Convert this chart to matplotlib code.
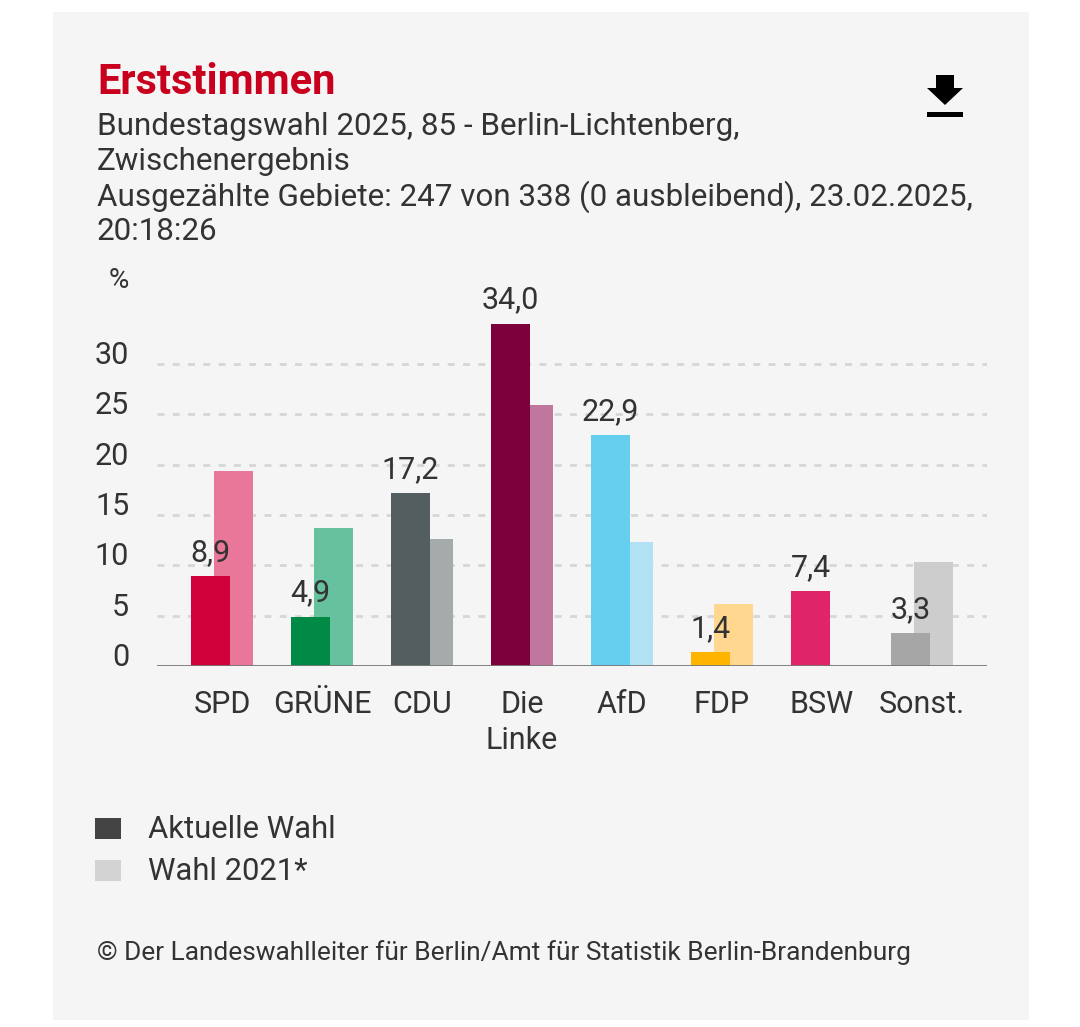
import numpy as np
import matplotlib
matplotlib.use("Agg")
import matplotlib.pyplot as plt
from matplotlib.patches import Rectangle, Polygon

plt.rcParams['font.family'] = ['Roboto', 'DejaVu Sans']

parties = ["SPD", "GRÜNE", "CDU", "Die\nLinke", "AfD", "FDP", "BSW", "Sonst."]
aktuell = [8.9, 4.9, 17.2, 34.0, 22.9, 1.4, 7.4, 3.3]
wahl2021 = [19.4, 13.7, 12.6, 25.9, 12.3, 6.2, 0.0, 10.3]
col_akt = ["#d0003a", "#008a45", "#545d5f", "#7c003c", "#66cfef", "#ffb400", "#e0246a", "#a6a6a6"]
col_21 = ["#e8779a", "#66c29e", "#a4abaa", "#bf779d", "#b1e2f3", "#ffd78e", "#f0a0bd", "#cdcdcd"]
yticks = [0, 5, 10, 15, 20, 25, 30]

W, H = 1080, 1027
fig = plt.figure(figsize=(W / 100, H / 100), dpi=100)
fig.patch.set_facecolor("white")

def fx(px): return px / W
def fy(py): return 1 - py / H

# grey panel
fig.patches.append(Rectangle((fx(53), fy(1020)), fx(1029) - fx(53), fy(12) - fy(1020),
                             transform=fig.transFigure, facecolor="#f5f5f5", edgecolor="none", zorder=-5))

txt = "#333333"
fig.text(fx(97), fy(82), "Erststimmen", color="#c8001e", fontsize=30, fontweight="bold", va="center", ha="left")
sub = ["Bundestagswahl 2025, 85 - Berlin-Lichtenberg,", "Zwischenergebnis",
       "Ausgezählte Gebiete: 247 von 338 (0 ausbleibend), 23.02.2025,", "20:18:26"]
for i, s in enumerate(sub):
    fig.text(fx(97), fy(126 + 35.3 * i), s, color=txt, fontsize=22.6, va="center", ha="left")

# download icon
fig.patches.append(Polygon([(fx(936), fy(75)), (fx(954), fy(75)), (fx(954), fy(88)), (fx(963), fy(88)),
                            (fx(945), fy(105)), (fx(927), fy(88)), (fx(936), fy(88))],
                           closed=True, transform=fig.transFigure, facecolor="black", edgecolor="none"))
fig.patches.append(Rectangle((fx(927), fy(117)), fx(963) - fx(927), fy(112) - fy(117),
                             transform=fig.transFigure, facecolor="black", edgecolor="none"))

# chart axes
ymax = 35
ax = fig.add_axes([fx(157), fy(666), fx(987) - fx(157), ymax * 10.07 / H])
ax.set_facecolor("none")
x = np.arange(len(parties))
bw = 0.39
off = 0.115
for i in range(len(parties)):
    if wahl2021[i] > 0:
        ax.bar(x[i] + off, wahl2021[i], bw, color=col_21[i], zorder=2)
    ax.bar(x[i] - off, aktuell[i], bw, color=col_akt[i], zorder=3)
    ax.text(x[i] - off, aktuell[i] + 0.9, f"{aktuell[i]:.1f}".replace(".", ","),
            ha="center", va="bottom", fontsize=22, color=txt, zorder=4)

ax.set_xlim(-0.65, len(parties) - 1 + 0.65)
ax.set_ylim(0, ymax)
for t in yticks[1:]:
    ax.axhline(t, color="#d6d6d6", lw=2, ls=(0, (2.5, 3)), zorder=1)
ax.axhline(0, color="#777777", lw=2, zorder=5)
for s in ax.spines.values():
    s.set_visible(False)
ax.set_yticks(yticks)
ax.set_yticklabels([str(t) for t in yticks], fontsize=22, color=txt, va="baseline")
ax.tick_params(axis="y", length=0, pad=20)
ax.set_xticks(x)
ax.set_xticklabels(parties, fontsize=22, color=txt, linespacing=1.3, va="top")
ax.tick_params(axis="x", length=0, pad=17)
fig.text(fx(119), fy(280), "%", fontsize=20, color=txt, ha="center", va="center")

# legend
fig.patches.append(Rectangle((fx(95), fy(839)), fx(121) - fx(95), fy(818) - fy(839),
                             transform=fig.transFigure, facecolor="#444444", edgecolor="none"))
fig.patches.append(Rectangle((fx(95), fy(881)), fx(121) - fx(95), fy(860) - fy(881),
                             transform=fig.transFigure, facecolor="#d3d3d3", edgecolor="none"))
fig.text(fx(148), fy(829), "Aktuelle Wahl", fontsize=22.3, color=txt, va="center")
fig.text(fx(148), fy(871), "Wahl 2021*", fontsize=22.3, color=txt, va="center")

fig.text(fx(97), fy(953), "© Der Landeswahlleiter für Berlin/Amt für Statistik Berlin-Brandenburg",
         fontsize=18.9, color=txt, va="center")

fig.savefig("out.png", dpi=100, facecolor="white")
